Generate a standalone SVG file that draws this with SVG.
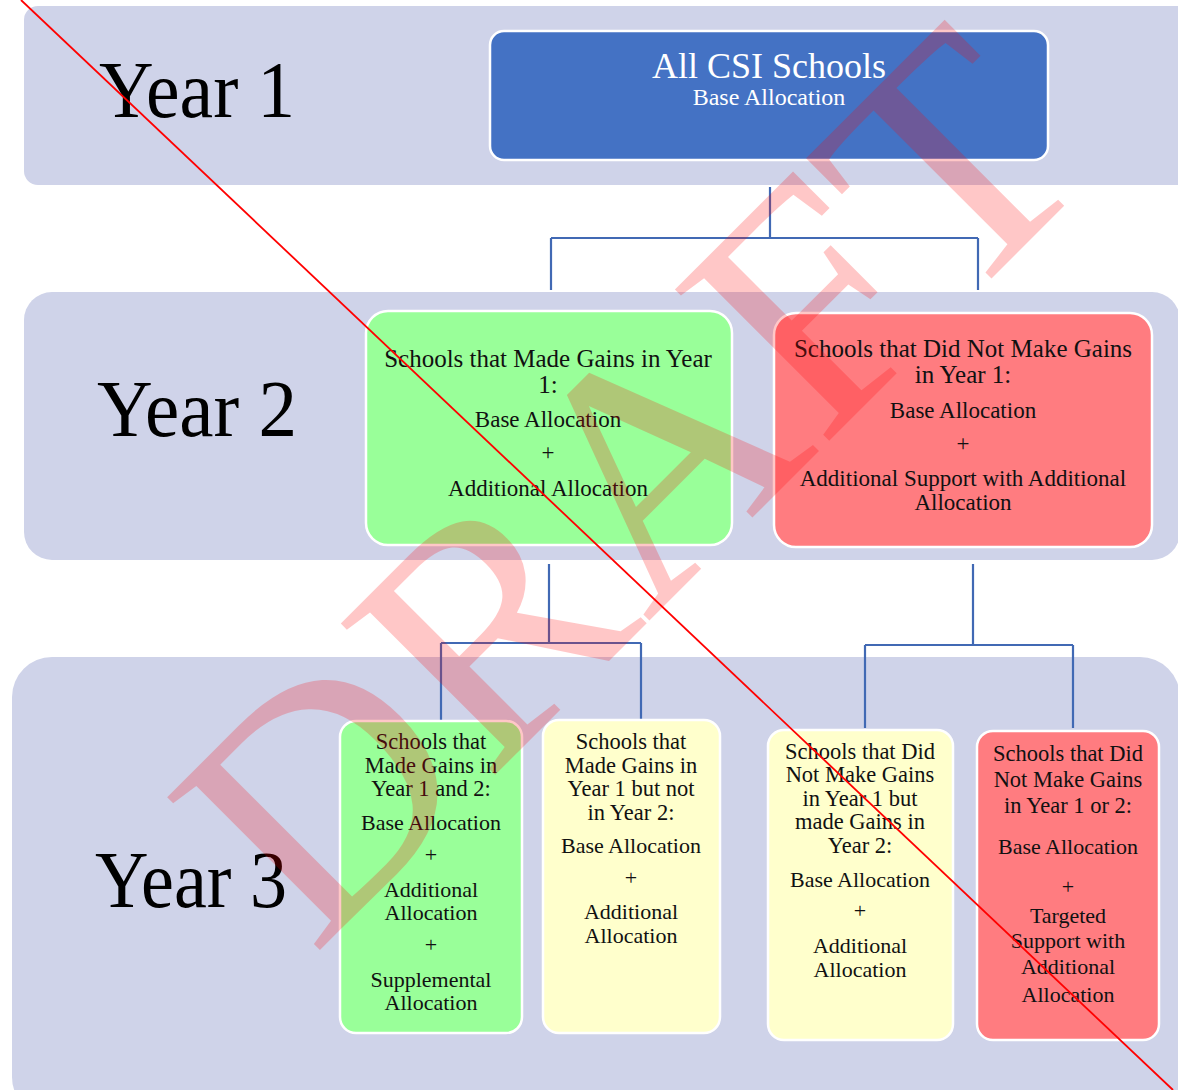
<svg xmlns="http://www.w3.org/2000/svg" width="1178" height="1090" viewBox="0 0 1178 1090">
<style>
  .band{fill:#CFD3E9;}
  .box{stroke:#FFFFFF;stroke-width:2.5;}
  .blue{fill:#4472C4;}
  .green{fill:#99FF99;}
  .red{fill:#FF7C80;}
  .yellow{fill:#FFFFCC;}
  text{font-family:"Liberation Serif","Times New Roman",serif;text-anchor:middle;fill:#111;}
  .yr{font-size:80px;fill:#000;}
  .w{fill:#FFFFFF;}
  .h2{font-size:25px;}
  .b2{font-size:23px;}
  .h3{font-size:22.5px;}
  .b3{font-size:22px;}
  .conn{fill:none;stroke:#4169B4;stroke-width:2.2;}
</style>
<rect width="1178" height="1090" fill="#FFFFFF"/>
<g id="bands">
  <rect class="band" x="24" y="6" width="1170" height="179" rx="14"/>
  <rect class="band" x="24" y="292" width="1156" height="268" rx="28"/>
  <rect class="band" x="12" y="657" width="1168" height="460" rx="40"/>
  <text class="yr" x="197" y="117" textLength="196" lengthAdjust="spacingAndGlyphs">Year 1</text>
  <text class="yr" x="197" y="436" textLength="200" lengthAdjust="spacingAndGlyphs">Year 2</text>
  <text class="yr" x="191" y="907" textLength="192" lengthAdjust="spacingAndGlyphs">Year 3</text>
</g>
<g id="connectors">
  <path class="conn" d="M770 187 V238 M551 238 H978 M551 238 V290 M978 238 V290"/>
  <path class="conn" d="M549 564 V643 M441 643 H641 M441 643 V721 M641 643 V721"/>
  <path class="conn" d="M973 564 V645 M865 645 H1073 M865 645 V728 M1073 645 V728"/>
</g>
<g id="n-all">
  <rect class="box blue" x="490" y="31" width="558" height="129" rx="14"/>
  <text class="w" x="769" y="78" font-size="36">All CSI Schools</text>
  <text class="w" x="769" y="105" font-size="24">Base Allocation</text>
</g>
<g id="n-y2-gains">
  <rect class="box green" x="366" y="311" width="366" height="234" rx="22"/>
  <text class="h2" x="548" y="367">Schools that Made Gains in Year</text>
  <text class="h2" x="548" y="393">1:</text>
  <text class="b2" x="548" y="427">Base Allocation</text>
  <text class="b2" x="548" y="460">+</text>
  <text class="b2" x="548" y="496">Additional Allocation</text>
</g>
<g id="n-y2-nogains">
  <rect class="box red" x="774" y="313" width="378" height="234" rx="22"/>
  <text class="h2" x="963" y="357">Schools that Did Not Make Gains</text>
  <text class="h2" x="963" y="383">in Year 1:</text>
  <text class="b2" x="963" y="418">Base Allocation</text>
  <text class="b2" x="963" y="451">+</text>
  <text class="b2" x="963" y="486">Additional Support with Additional</text>
  <text class="b2" x="963" y="510">Allocation</text>
</g>
<g id="n-y3-both">
  <rect class="box green" x="340" y="721" width="182" height="312" rx="16"/>
  <text class="h3" x="431" y="749">Schools that</text>
  <text class="h3" x="431" y="773">Made Gains in</text>
  <text class="h3" x="431" y="796">Year 1 and 2:</text>
  <text class="b3" x="431" y="830">Base Allocation</text>
  <text class="b3" x="431" y="862">+</text>
  <text class="b3" x="431" y="897">Additional</text>
  <text class="b3" x="431" y="920">Allocation</text>
  <text class="b3" x="431" y="952">+</text>
  <text class="b3" x="431" y="987">Supplemental</text>
  <text class="b3" x="431" y="1010">Allocation</text>
</g>
<g id="n-y3-y1only">
  <rect class="box yellow" x="543" y="720" width="177" height="313" rx="16"/>
  <text class="h3" x="631" y="749">Schools that</text>
  <text class="h3" x="631" y="773">Made Gains in</text>
  <text class="h3" x="631" y="796">Year 1 but not</text>
  <text class="h3" x="631" y="820">in Year 2:</text>
  <text class="b3" x="631" y="853">Base Allocation</text>
  <text class="b3" x="631" y="885">+</text>
  <text class="b3" x="631" y="919">Additional</text>
  <text class="b3" x="631" y="943">Allocation</text>
</g>
<g id="n-y3-y2only">
  <rect class="box yellow" x="768" y="730" width="185" height="310" rx="16"/>
  <text class="h3" x="860" y="759">Schools that Did</text>
  <text class="h3" x="860" y="782">Not Make Gains</text>
  <text class="h3" x="860" y="806">in Year 1 but</text>
  <text class="h3" x="860" y="829">made Gains in</text>
  <text class="h3" x="860" y="853">Year 2:</text>
  <text class="b3" x="860" y="887">Base Allocation</text>
  <text class="b3" x="860" y="918">+</text>
  <text class="b3" x="860" y="953">Additional</text>
  <text class="b3" x="860" y="977">Allocation</text>
</g>
<g id="n-y3-none">
  <rect class="box red" x="977" y="731" width="182" height="309" rx="16"/>
  <text class="h3" x="1068" y="761">Schools that Did</text>
  <text class="h3" x="1068" y="787">Not Make Gains</text>
  <text class="h3" x="1068" y="813">in Year 1 or 2:</text>
  <text class="b3" x="1068" y="854">Base Allocation</text>
  <text class="b3" x="1068" y="894">+</text>
  <text class="b3" x="1068" y="923">Targeted</text>
  <text class="b3" x="1068" y="948">Support with</text>
  <text class="b3" x="1068" y="974">Additional</text>
  <text class="b3" x="1068" y="1002">Allocation</text>
</g>
<g id="watermark">
  <text x="0" y="0" transform="translate(313,957) rotate(-45)" font-size="330" textLength="1115" lengthAdjust="spacingAndGlyphs" style="text-anchor:start;fill:#FF0000;fill-opacity:0.22;">DRAFT</text>
  <line x1="21" y1="0" x2="1173" y2="1090" stroke="#FF0000" stroke-width="1.8"/>
</g>
</svg>
